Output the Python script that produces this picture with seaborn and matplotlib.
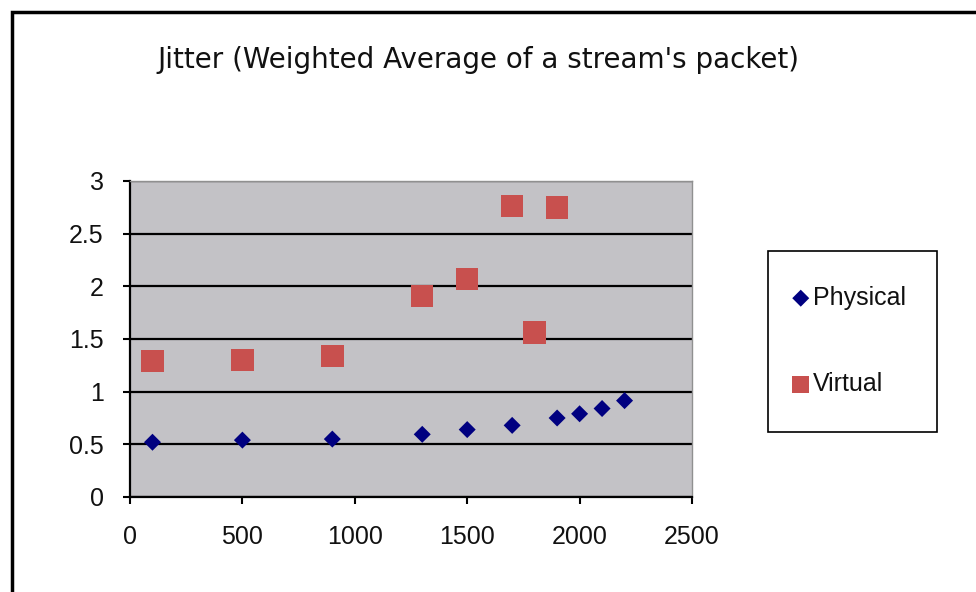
import pandas as pd
import seaborn as sns
import matplotlib.pyplot as plt
from matplotlib.patches import Rectangle

# Values
physical_x = [100, 500, 900, 1300, 1500, 1700, 1900, 2000, 2100, 2200]
physical_y = [0.52, 0.54, 0.55, 0.595, 0.64, 0.68, 0.75, 0.79, 0.84, 0.915]
virtual_x = [100, 500, 900, 1300, 1500, 1700, 1800, 1900]
virtual_y = [1.29, 1.30, 1.34, 1.91, 2.07, 2.76, 1.56, 2.75]
x_ticks = [0, 500, 1000, 1500, 2000, 2500]
y_ticks = [0, 0.5, 1, 1.5, 2, 2.5, 3]

df = pd.concat([
    pd.DataFrame({'x': physical_x, 'y': physical_y, 'series': 'Physical'}),
    pd.DataFrame({'x': virtual_x, 'y': virtual_y, 'series': 'Virtual'}),
])

sns.set_style('white')
plt.rcParams['font.family'] = ['Liberation Sans', 'DejaVu Sans']

W, H = 976, 592
fig = plt.figure(figsize=(W / 100, H / 100), dpi=100)
# outer chart frame (only top/left edges visible in the reference)
fig.patches.append(Rectangle((12 / W, -0.1), 1.2, 1 - 12 / H + 0.1,
                             transform=fig.transFigure, fill=False,
                             edgecolor='black', linewidth=2.5))
# legend box
fig.patches.append(Rectangle((768 / W, 1 - 432 / H), (937 - 768) / W, (432 - 251) / H,
                             transform=fig.transFigure, fill=False,
                             edgecolor='black', linewidth=1.2))

ax = fig.add_axes([130 / W, 1 - 497 / H, (692 - 130) / W, (497 - 181) / H])
ax.set_facecolor('#C3C2C6')

phys = df[df.series == 'Physical']
virt = df[df.series == 'Virtual']
sns.scatterplot(data=phys, x='x', y='y', marker='D', s=75, color='#000080',
                edgecolor='none', ax=ax, label='Physical', zorder=3)
sns.scatterplot(data=virt, x='x', y='y', marker='s', s=260, color='#C8504E',
                edgecolor='none', ax=ax, label='Virtual', zorder=3)

ax.set_xlim(0, 2500)
ax.set_ylim(0, 3)
ax.set_xticks(x_ticks)
ax.set_yticks(y_ticks)
ax.set_yticklabels([f'{v:g}' for v in y_ticks])
ax.set_xlabel('')
ax.set_ylabel('')
ax.yaxis.grid(True, color='black', linewidth=1.6)
ax.set_axisbelow(True)
for side in ['top', 'right']:
    ax.spines[side].set_color('#909090')
    ax.spines[side].set_linewidth(1)
for side in ['left', 'bottom']:
    ax.spines[side].set_color('black')
    ax.spines[side].set_linewidth(1.6)
ax.tick_params(axis='both', direction='out', length=5, width=1.5, color='black',
               labelsize=18, labelcolor='#111111', left=True, bottom=True)
ax.tick_params(axis='x', pad=15)
ax.tick_params(axis='y', pad=14)

fig.text(478 / W, 1 - 60 / H, "Jitter (Weighted Average of a stream's packet)",
         ha='center', va='center', fontsize=20, family='DejaVu Sans', color='#111111')

leg = ax.legend(loc='center left', bbox_to_anchor=(792 / W, 1 - 341 / H),
                bbox_transform=fig.transFigure, frameon=False, fontsize=18,
                handletextpad=0.15, labelspacing=2.5, borderpad=0,
                handlelength=0.7, borderaxespad=0)
for t in leg.get_texts():
    t.set_color('#111111')
for h in leg.legend_handles:
    h.set_sizes([75] if h.get_label() == 'Physical' else [150])

fig.savefig('out.png', dpi=100)
